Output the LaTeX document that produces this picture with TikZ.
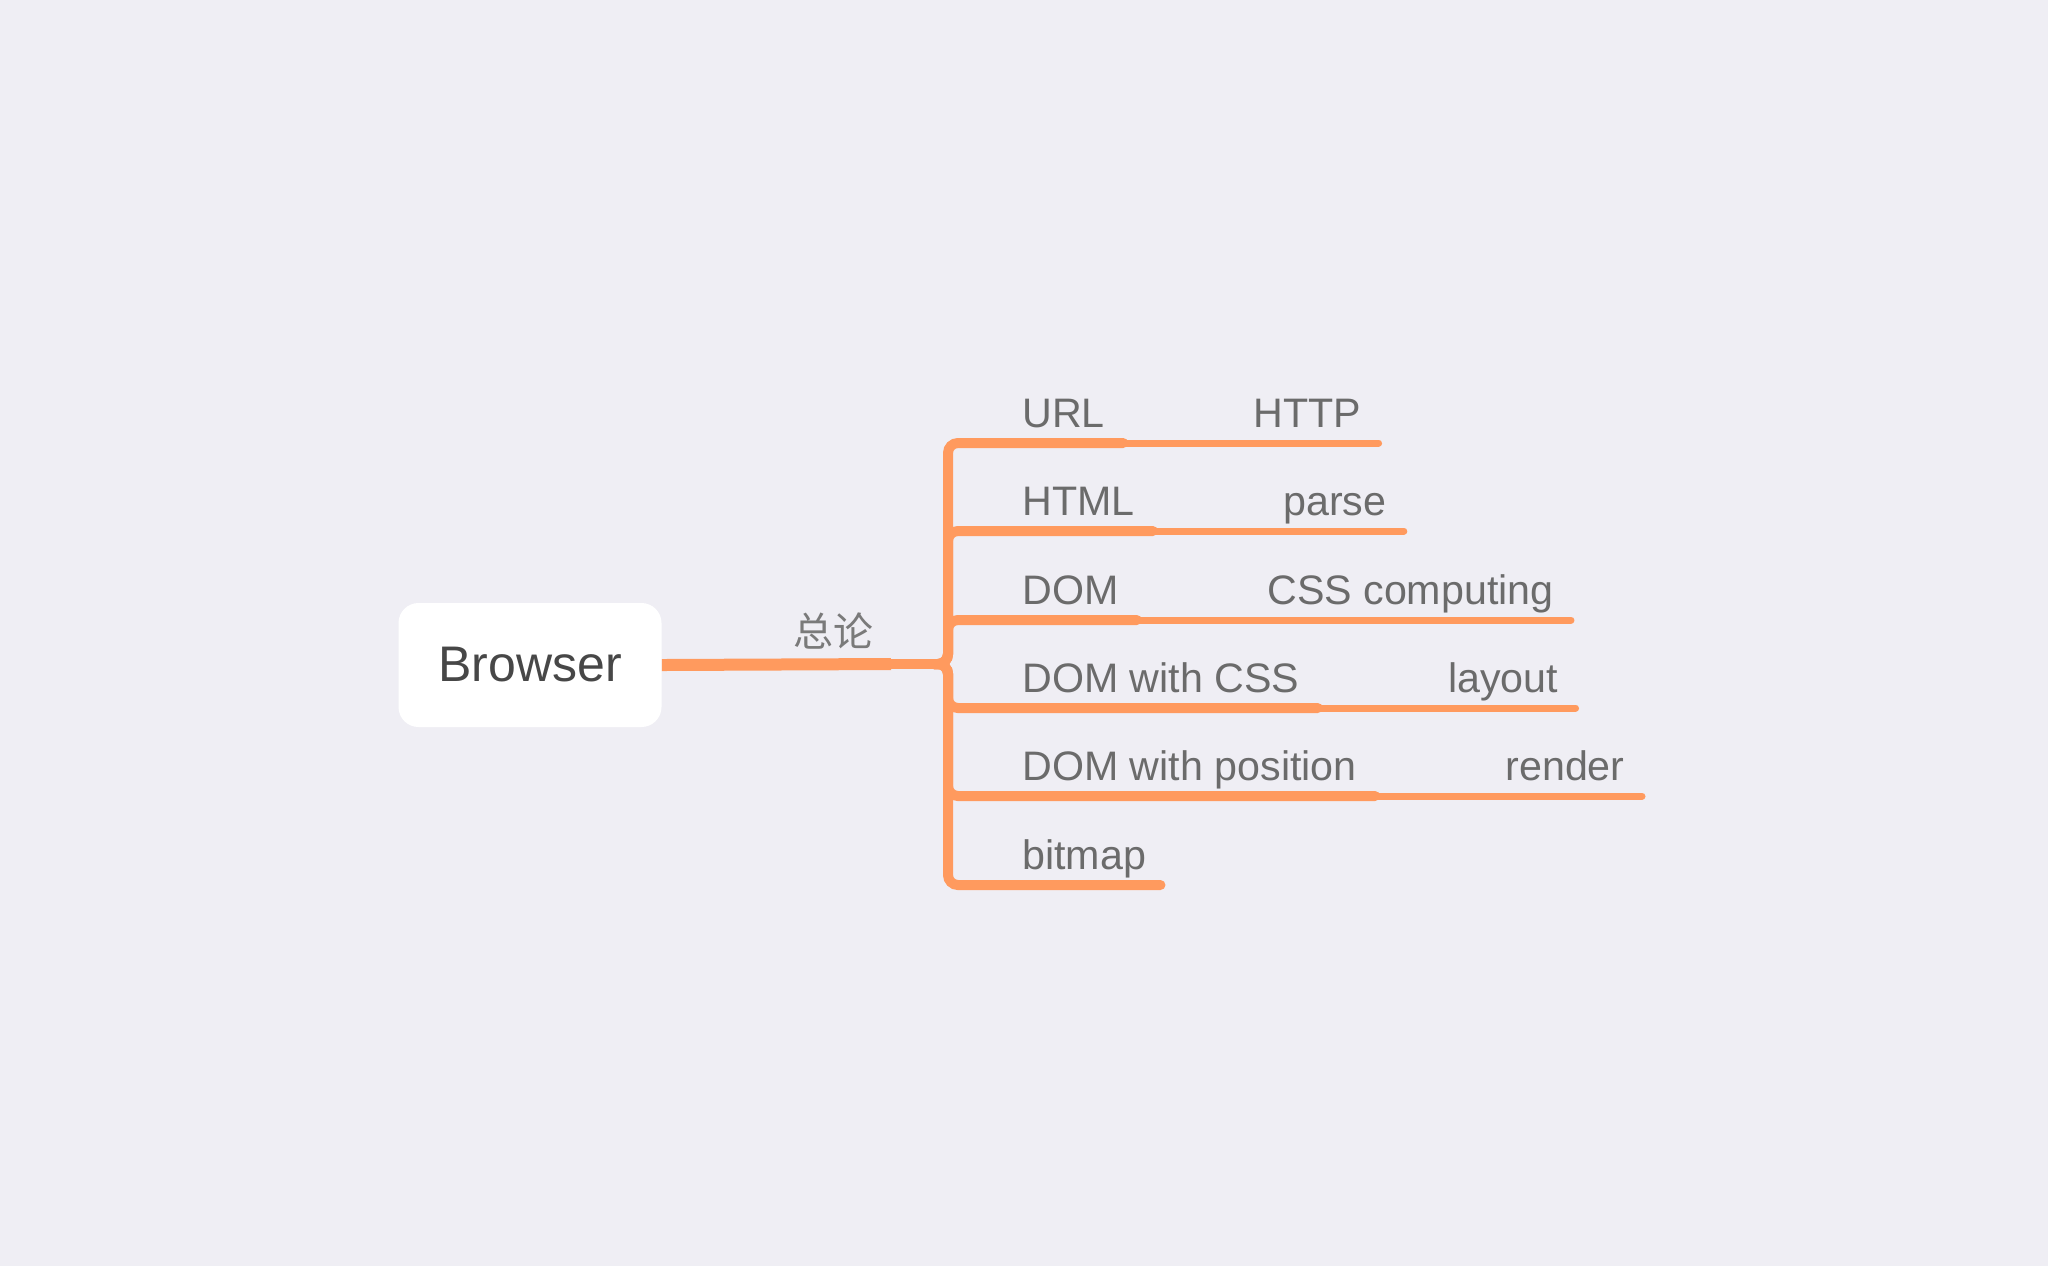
\documentclass[tikz,border=0pt]{standalone}
\usepackage{fontspec}
\setmainfont{Liberation Sans}
\newfontfamily\cjkfont{Noto Sans CJK SC}
\usetikzlibrary{positioning,calc}
\definecolor{mmorange}{HTML}{FF9A5E}
\definecolor{mmbg}{HTML}{EFEEF4}
\definecolor{mmtext}{HTML}{6B6B6B}
\definecolor{mmdark}{HTML}{474747}

\begin{document}
\begin{tikzpicture}[x=0.5pt,y=-0.5pt,
      root/.style={fill=white,rounded corners=10pt,minimum width=131.5pt,minimum height=62pt,
        text=mmdark,font=\fontsize{25}{30}\selectfont},
      lbl/.style={inner sep=0pt,text=mmtext,font=\fontsize{20.6}{25}\selectfont},
      sub/.style={lbl,base right=74pt of #1},
      limb/.style={draw=mmorange,line width=5pt,rounded corners=5pt,line cap=round},
      twig/.style={draw=mmorange,line width=3.5pt,line cap=round}]
    \fill[mmbg] (0,0) rectangle (2048,1266);
    \useasboundingbox (0,0) rectangle (2048,1266);
    \node[root] (browser) at (530,665) {Browser};
    \node[lbl,text=mmtext!90,font=\cjkfont\fontsize{20}{24}\selectfont] (topic) at (833,631) {总论};
    \coordinate (stem) at (891,664);
    \coordinate (hub) at (934,664);
    \coordinate (bar) at (948,664);
    \draw[mmorange,line width=6pt] (browser.east) -- (stem);
    \draw[limb] (stem) -- (hub);
    % first level
    \node[lbl,anchor=base west] (url) at (1022,427) {URL};
    \node[lbl,anchor=base west] (html) at (1022,515) {HTML};
    \node[lbl,anchor=base west] (dom) at (1022,604) {DOM};
    \node[lbl,anchor=base west] (domcss) at (1022,692) {DOM with CSS};
    \node[lbl,anchor=base west] (dompos) at (1022,780) {DOM with position};
    \node[lbl,anchor=base west] (bitmap) at (1022,869) {bitmap};
    % second level
    \node[sub=url] (http) {HTTP};
    \node[sub=html] (parse) {parse};
    \node[sub=dom] (csscomp) {CSS computing};
    \node[sub=domcss] (layout) {layout};
    \node[sub=dompos] (render) {render};
    \coordinate (urlk) at ($(url.base east)+(9pt,-8pt)$);
    \coordinate (htmlk) at ($(html.base east)+(9pt,-8pt)$);
    \coordinate (domk) at ($(dom.base east)+(9pt,-8pt)$);
    \coordinate (domcssk) at ($(domcss.base east)+(9pt,-8pt)$);
    \coordinate (domposk) at ($(dompos.base east)+(9pt,-8pt)$);
    \coordinate (bitmapk) at ($(bitmap.base east)+(7pt,-8pt)$);
    \draw[twig] (urlk) -- ($(http.base east)+(8.5pt,-8pt)$);
    \draw[twig] (htmlk) -- ($(parse.base east)+(8.5pt,-8pt)$);
    \draw[twig] (domk) -- ($(csscomp.base east)+(8.5pt,-8pt)$);
    \draw[twig] (domcssk) -- ($(layout.base east)+(8.5pt,-8pt)$);
    \draw[twig] (domposk) -- ($(render.base east)+(8.5pt,-8pt)$);
    \draw[limb] (hub) -- (bar) |- (urlk);
    \draw[limb] (hub) -- (bar) |- (htmlk);
    \draw[limb] (hub) -- (bar) |- (domk);
    \draw[limb] (hub) -- (bar) |- (domcssk);
    \draw[limb] (hub) -- (bar) |- (domposk);
    \draw[limb] (hub) -- (bar) |- (bitmapk);
  \end{tikzpicture}
\end{document}
